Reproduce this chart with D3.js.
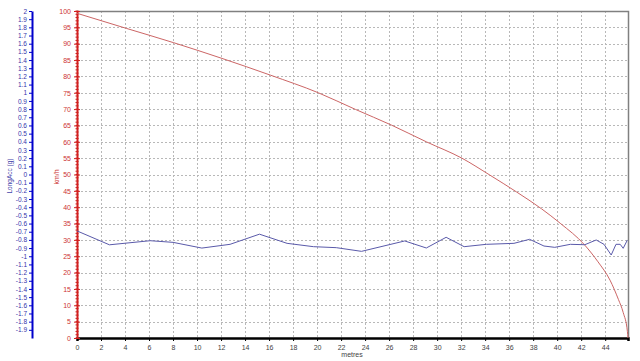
<!DOCTYPE html>
<html>
<head>
<meta charset="utf-8">
<script src="https://cdn.jsdelivr.net/npm/d3@7"></script>
<style>
  body { margin: 0; background: #fff; }
  svg text { font-family: Arial, "Liberation Sans", sans-serif; }
</style>
</head>
<body>
<script>
// speed (km/h) vs distance (metres)
var speedMetres = [0, 4.1, 8.06, 12.08, 16.1, 20.1, 23.2, 26.2, 29.1, 32.06, 34.4, 36.6, 38.7, 40.25, 42.3, 43.4, 44.4, 45.1, 45.5, 45.85, 45.9];
var speedKmh    = [99.3, 94.7, 90.3, 85.5, 80.4, 75.0, 69.9, 65.1, 60.0, 55.0, 49.8, 44.7, 39.5, 35.1, 28.4, 23.3, 17.7, 11.8, 7.8, 2.0, 0];

// longitudinal acceleration (g) vs distance
var accMetres = [0, 2.7, 6.1, 8.0, 10.4, 12.75, 15.2, 17.5, 19.7, 21.6, 23.7, 27.3, 29.1, 30.75, 32.25, 34.1, 36.4, 37.7, 38.9, 39.8, 41.1, 42.3, 43.25, 43.9, 44.5, 44.9, 45.25, 45.5, 45.85];
var accG      = [-0.69, -0.86, -0.81, -0.83, -0.9, -0.854, -0.73, -0.842, -0.883, -0.895, -0.94, -0.813, -0.899, -0.768, -0.883, -0.854, -0.842, -0.793, -0.875, -0.891, -0.854, -0.859, -0.801, -0.854, -0.985, -0.854, -0.854, -0.903, -0.801];

var metreTicks = d3.range(0, 45, 2);
var kmhTicks = d3.range(0, 101, 5);
var gTicks = d3.range(20, -20, -1).map(function(d) { return d / 10; });

var width = 640, height = 361;
var plotLeft = 77, plotRight = 628, plotTop = 11, plotBottom = 338;

var svg = d3.select("body").append("svg")
    .attr("width", width)
    .attr("height", height);

var x = d3.scaleLinear().domain([0, 45.9]).range([plotLeft, plotRight]);
var yKmh = d3.scaleLinear().domain([0, 100]).range([plotBottom, plotTop]);
var yG = d3.scaleLinear().domain([-2, 2]).range([plotBottom, plotTop]);

// ---- grid ----
var grid = svg.append("g");
grid.selectAll(".hgrid")
    .data(kmhTicks.filter(function(d) { return d > 0 && d < 100; }))
    .enter().append("line")
    .attr("x1", plotLeft).attr("x2", plotRight)
    .attr("y1", function(d) { return Math.round(yKmh(d)) + 0.5; })
    .attr("y2", function(d) { return Math.round(yKmh(d)) + 0.5; })
    .style("stroke", "#b8b8b8")
    .style("stroke-dasharray", "2,2");

grid.selectAll(".vgrid")
    .data(metreTicks.filter(function(d) { return d > 0; }))
    .enter().append("line")
    .attr("x1", function(d) { return Math.round(x(d)) + 0.5; })
    .attr("x2", function(d) { return Math.round(x(d)) + 0.5; })
    .attr("y1", plotTop).attr("y2", plotBottom)
    .style("stroke", "#b8b8b8")
    .style("stroke-dasharray", "2,2");

// frame top + right
svg.append("path")
    .attr("d", "M" + plotLeft + "," + (plotTop + 0.5) + "H" + (plotRight + 0.5) + "V" + plotBottom)
    .style("fill", "none")
    .style("stroke", "#808080")
    .style("stroke-width", 1.5);

// ---- x axis ----
var xaxis = d3.axisBottom(x).tickValues(metreTicks).tickSize(3).tickFormat(d3.format("d"));
var gx = svg.append("g")
    .attr("transform", "translate(0," + plotBottom + ")")
    .call(xaxis);
gx.select(".domain").style("stroke", "#000").style("stroke-width", 2.5);
gx.selectAll(".tick line").style("stroke", "#000");
gx.selectAll("text").style("font-size", "7px").style("fill", "#444").attr("dy", "0.9em");

svg.append("text")
    .attr("x", 352).attr("y", 357)
    .style("text-anchor", "middle")
    .style("font-size", "7px")
    .style("fill", "#444")
    .text("metres");

// ---- km/h axis ----
var ykaxis = d3.axisLeft(yKmh).tickValues(kmhTicks).tickSizeInner(3).tickSizeOuter(0);
var gk = svg.append("g")
    .attr("transform", "translate(" + plotLeft + ",0)")
    .call(ykaxis);
gk.select(".domain").style("stroke", "#d02020").style("stroke-width", 2);
gk.selectAll(".tick line").attr("x1", 3).style("stroke", "#d02020");
gk.selectAll("text").style("font-size", "7px").style("fill", "#cc3333");

// minor ticks on km/h axis
gk.selectAll(".minor")
    .data(d3.range(0, 101, 1))
    .enter().append("line")
    .attr("x1", -1.5).attr("x2", 1.5)
    .attr("y1", function(d) { return yKmh(d); })
    .attr("y2", function(d) { return yKmh(d); })
    .style("stroke", "#d02020");

svg.append("text")
    .attr("transform", "translate(59,177) rotate(-90)")
    .style("text-anchor", "middle")
    .style("font-size", "7px")
    .style("fill", "#cc3333")
    .text("km/h");

// ---- g axis ----
var ygaxis = d3.axisLeft(yG).tickValues(gTicks).tickSizeInner(3).tickSizeOuter(0).tickPadding(2)
    .tickFormat(function(d) { return String(+d.toFixed(1)); });
var gg = svg.append("g")
    .attr("transform", "translate(32,0)")
    .call(ygaxis);
gg.select(".domain").style("stroke", "#0000cc").style("stroke-width", 2);
gg.selectAll(".tick line").style("stroke", "#0000cc");
gg.selectAll("text").style("font-size", "6.5px").style("fill", "#3333aa");

svg.append("text")
    .attr("transform", "translate(12,176) rotate(-90)")
    .style("text-anchor", "middle")
    .style("font-size", "6.5px")
    .style("fill", "#4444aa")
    .text("LongAcc (g)");

// ---- series ----
var speedLine = d3.line()
    .x(function(d, i) { return x(speedMetres[i]); })
    .y(function(d) { return yKmh(d); })
    .curve(d3.curveMonotoneX);

svg.append("path")
    .attr("d", speedLine(speedKmh))
    .style("fill", "none")
    .style("stroke", "#cc6666")
    .style("stroke-width", 1);

var accLine = d3.line()
    .x(function(d, i) { return x(accMetres[i]); })
    .y(function(d) { return yG(d); });

svg.append("path")
    .attr("d", accLine(accG))
    .style("fill", "none")
    .style("stroke", "#5a5aaa")
    .style("stroke-width", 1);
</script>
</body>
</html>
